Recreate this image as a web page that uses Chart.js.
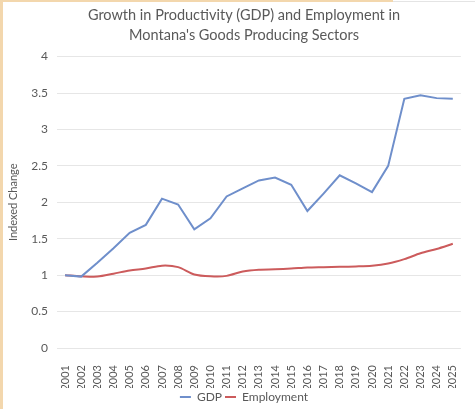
<!DOCTYPE html>
<html>
<head>
<meta charset="utf-8">
<script src="https://cdn.jsdelivr.net/npm/chart.js@4.4.1/dist/chart.umd.min.js"></script>
<style>
  html, body { margin: 0; padding: 0; background: #ffffff; }
  #wrap { position: relative; width: 475px; height: 409px; }
  #frame-left { position: absolute; left: 0; top: 0; width: 3px; height: 409px; background: #f3d7ad; }
  #frame-top { position: absolute; left: 0; top: 0; width: 393px; height: 2px; background: #f3d7ad; }
  #frame-top2 { position: absolute; left: 393px; top: 1px; width: 82px; height: 1px; background: #e4e4e4; }
</style>
</head>
<body>
<div id="wrap">
  <canvas id="chart" width="475" height="409"></canvas>
  <div id="frame-left"></div>
  <div id="frame-top"></div>
  <div id="frame-top2"></div>
</div>
<script>
//years on the x axis
const years = ['2001', '2002', '2003', '2004', '2005', '2006', '2007', '2008', '2009', '2010', '2011', '2012', '2013',
	'2014', '2015', '2016', '2017', '2018', '2019', '2020', '2021', '2022', '2023', '2024', '2025'];
//indexed GDP (2001 = 1)
const gdp = [1.0, 0.98, 1.17, 1.37, 1.58, 1.69, 2.05, 1.97, 1.63, 1.78, 2.08, 2.19, 2.30,
	2.34, 2.24, 1.88, 2.12, 2.37, 2.26, 2.14, 2.50, 3.42, 3.47, 3.43, 3.42];
//indexed employment (2001 = 1)
const employment = [1.0, 0.985, 0.98, 1.02, 1.065, 1.09, 1.13, 1.11, 1.01, 0.985, 0.99, 1.05, 1.075,
	1.08, 1.09, 1.105, 1.11, 1.115, 1.12, 1.13, 1.16, 1.22, 1.30, 1.36, 1.43];
//y axis ticks
const yTicks = [0, 0.5, 1, 1.5, 2, 2.5, 3, 3.5, 4];

const textColor = '#595959';
const fontFamily = 'Lato, "Open Sans", sans-serif';

new Chart(document.getElementById('chart'), {
	type: 'line',
	data: {
		labels: years,
		datasets: [
			{
				label: 'GDP',
				data: gdp,
				borderColor: '#6f8fcb',
				backgroundColor: '#6f8fcb',
				borderWidth: 2,
				pointRadius: 0,
				tension: 0,
			},
			{
				label: 'Employment',
				data: employment,
				borderColor: '#cc5b5c',
				backgroundColor: '#cc5b5c',
				borderWidth: 2,
				pointRadius: 0,
				tension: 0.3,
			},
		],
	},
	options: {
		responsive: false,
		animation: false,
		layout: { padding: { left: 7, right: -6, top: 4, bottom: -4 } },
		plugins: {
			title: {
				display: true,
				text: ['Growth in Productivity (GDP) and Employment in', "Montana's Goods Producing Sectors"],
				color: textColor,
				font: { family: fontFamily, size: 14.5, weight: 'normal', lineHeight: 1.4 },
				padding: { top: 1, bottom: 11 },
			},
			legend: {
				position: 'bottom',
				labels: {
					color: textColor,
					font: { family: fontFamily, size: 12 },
					usePointStyle: true,
					pointStyle: 'line',
					pointStyleWidth: 11,
					boxHeight: 2,
					padding: 3,
				},
			},
			tooltip: { enabled: false },
		},
		scales: {
			x: {
				offset: true,
				grid: { display: false },
				border: { display: false },
				afterFit: axis => {
					axis.height = 40;
				},
				ticks: {
					color: textColor,
					font: { family: fontFamily, size: 11 },
					minRotation: 90,
					maxRotation: 90,
					autoSkip: false,
					padding: 9,
				},
			},
			y: {
				min: 0,
				max: 4,
				grid: { color: '#e6e6e6', drawTicks: false },
				border: { display: false },
				afterBuildTicks: axis => {
					axis.ticks = yTicks.map(v => ({ value: v }));
				},
				ticks: {
					color: textColor,
					font: { family: fontFamily, size: 12 },
					padding: 9,
					callback: v => String(v),
				},
				title: {
					display: true,
					text: 'Indexed Change',
					color: textColor,
					font: { family: fontFamily, size: 11 },
					padding: { top: 0, bottom: 2 },
				},
			},
		},
	},
});
</script>
</body>
</html>
